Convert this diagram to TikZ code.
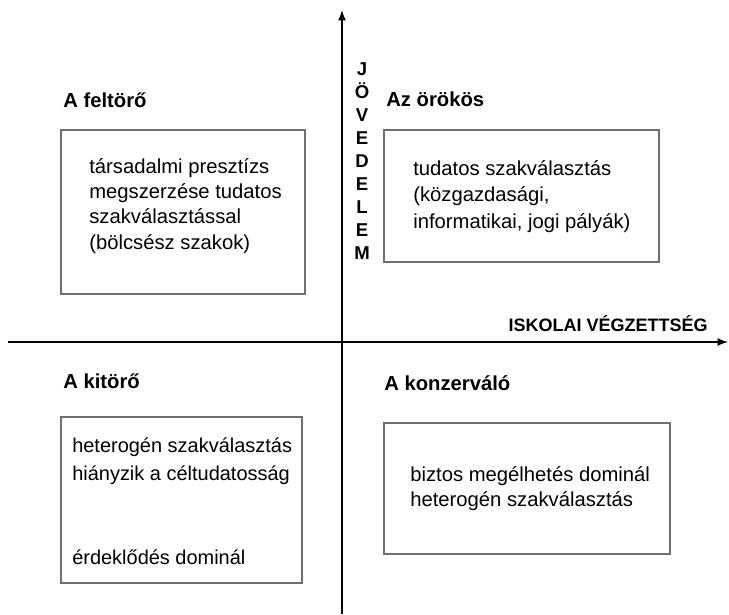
\documentclass[tikz,border=0pt]{standalone}
\usepackage{fontspec}
\setmainfont{Liberation Sans}
\usepackage{tikz}
\usetikzlibrary{arrows,positioning}
\definecolor{boxgray}{RGB}{112,112,112}

\begin{document}
\begin{tikzpicture}[x=0.025cm,y=-0.025cm,
  axis/.style={line width=1.5pt,-latex},
  box/.style={draw=boxgray,line width=1.4pt,inner sep=0pt,outer sep=0pt,anchor=north west},
  title/.style={font=\bfseries\fontsize{14.4}{17}\selectfont,anchor=base west,inner sep=0pt},
  body/.style={align=left,anchor=base west,inner sep=0pt}]
\useasboundingbox (0,0) rectangle (729,614);
% axes
\coordinate (vbot) at (342,614);
\coordinate (vtop) at (342,10);
\coordinate (hleft) at (8,342);
\coordinate (hright) at (728,342);
\draw[axis] (vbot) -- (vtop);
\draw[axis] (hleft) -- (hright);
\node[font=\bfseries\fontsize{13.2}{16.4}\selectfont,align=center,inner sep=0pt] (jov) at (362,161) {J\\Ö\\V\\E\\D\\E\\L\\E\\M};
\node[font=\bfseries\fontsize{12.8}{15}\selectfont,anchor=base east,inner sep=0pt] (isk) at (708,331) {ISKOLAI VÉGZETTSÉG};
% quadrants (text nodes sit on the baseline of their last line)
\node[title] (feltoro) at (63,107) {A feltörő};
\node[box,minimum width=6.1cm,minimum height=4.1cm] (feltoroBox) at (61,130) {};
\node[body,font=\fontsize{14.4}{17.8}\selectfont] (feltoroText) at (89,249) {társadalmi presztízs\\megszerzése tudatos\\szakválasztással\\(bölcsész szakok)};

\node[title] (orokos) at (386,106) {Az örökös};
\node[box,minimum width=6.875cm,minimum height=3.3cm] (orokosBox) at (384,130) {};
\node[body,font=\fontsize{14.4}{18.8}\selectfont] (orokosText) at (413,228) {tudatos szakválasztás\\(közgazdasági,\\informatikai, jogi pályák)};

\node[title] (kitoro) at (63,388) {A kitörő};
\node[box,minimum width=6.025cm,minimum height=4.15cm] (kitoroBox) at (61,417) {};
\node[body,font=\fontsize{14.2}{19.9}\selectfont] (kitoroText) at (72,564) {heterogén szakválasztás\\hiányzik a céltudatosság\\[39.8pt]érdeklődés dominál};

\node[title] (konzervalo) at (384,390) {A konzerváló};
\node[box,minimum width=7.15cm,minimum height=3.275cm] (konzervaloBox) at (384,423) {};
\node[body,font=\fontsize{14.4}{17.1}\selectfont] (konzervaloText) at (410,506) {biztos megélhetés dominál\\heterogén szakválasztás};
\end{tikzpicture}
\end{document}
